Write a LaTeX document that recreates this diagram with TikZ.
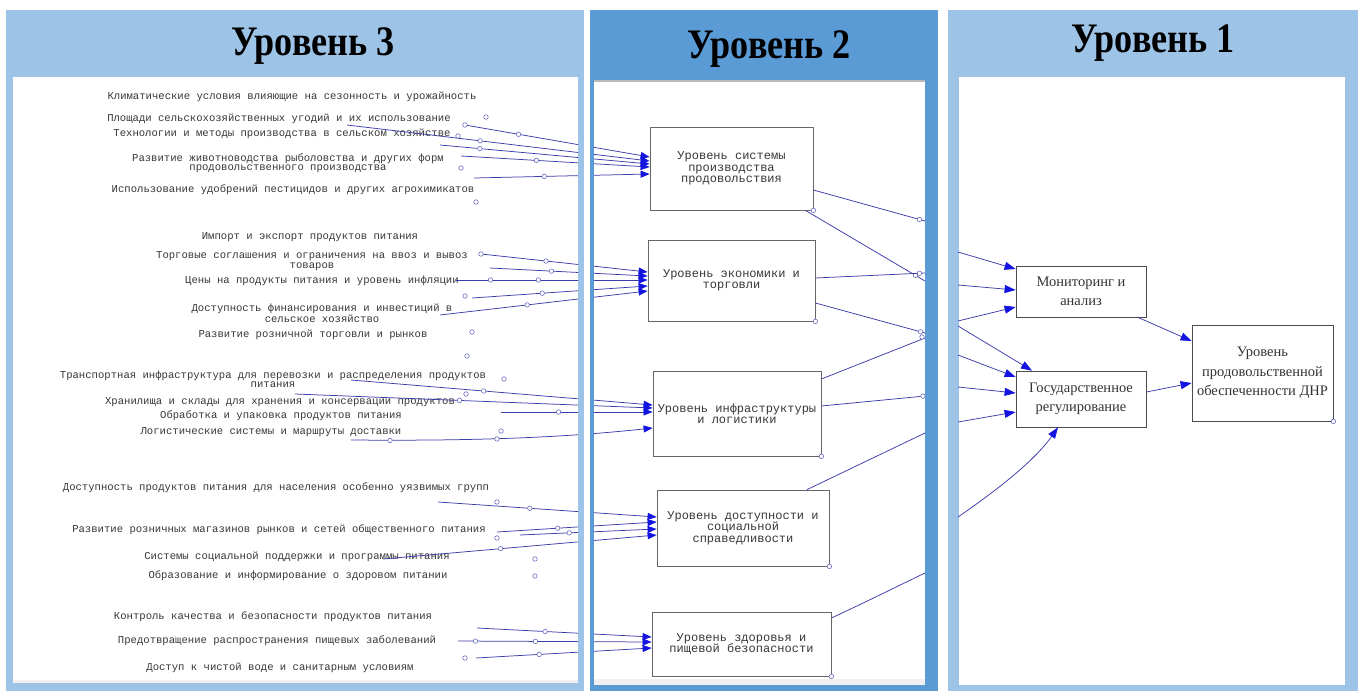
\documentclass[tikz,border=0pt]{standalone}
\usepackage{fontspec}
\usepackage{graphicx}
\setmainfont{Liberation Serif}
\newfontfamily\monof{Liberation Mono}
\usetikzlibrary{arrows.meta}
\definecolor{pl}{RGB}{157,195,230}
\definecolor{pm}{RGB}{91,155,213}
\definecolor{ln}{RGB}{60,60,170}
\definecolor{hd}{RGB}{20,20,225}
\definecolor{txt}{RGB}{55,55,55}
\begin{document}
\begin{tikzpicture}[x=1pt,y=-1pt,
  lbl/.style={font=\monof\fontsize{10.6}{9.5}\selectfont, text=txt, align=center, inner sep=0pt},
  mbox/.style={draw=black!60, line width=0.8pt, fill=white, font=\monof\fontsize{12}{11.5}\selectfont, text=txt, align=center, inner sep=0pt},
  rbox/.style={draw=black!70, line width=0.8pt, fill=white, font=\fontsize{14.5}{19.5}\selectfont, text=black!80, align=center, inner sep=0pt},
  ttl/.style={font=\fontsize{42}{46}\selectfont\bfseries, inner sep=0pt},
  conn/.style={draw=ln, line width=0.75pt},
  arr/.style={conn, -{Triangle[length=9pt,width=7pt,color=hd]}},
  rarr/.style={conn, -{Triangle[length=11pt,width=8pt,color=hd]}},
  circ/.style={circle, draw=ln!75, fill=white, line width=0.6pt, minimum size=4.5pt, inner sep=0pt}]
\useasboundingbox (0,0) rectangle (1358,691);
% panels
\fill[white] (0,0) rectangle (1358,691);
\fill[pl] (6,10) rectangle (584,691);
\fill[white] (13,77) rectangle (578,680);
\fill[gray!12] (13,680) rectangle (578,683);
\fill[pm] (590,10) rectangle (938,691);
\fill[gray!55] (594,80) rectangle (925,82);
\fill[white] (594,82) rectangle (925,679);
\fill[gray!12] (594,679) rectangle (925,685);
\fill[pl] (948,10) rectangle (1358,691);
\fill[white] (959,77) rectangle (1345,685);
% titles
\node[ttl] (ttl3) at (313,46) {\scalebox{0.86}[1]{Уровень 3}};
\node[ttl] (ttl2) at (769,49) {\scalebox{0.86}[1]{Уровень 2}};
\node[ttl] (ttl1) at (1153,43) {\scalebox{0.86}[1]{Уровень 1}};
% left labels
\node[lbl] (t1) at (292,97) {Климатические условия влияющие на сезонность и урожайность};
\node[lbl] (t2) at (279,119) {Площади сельскохозяйственных угодий и их использование};
\node[lbl] (t3) at (282,134) {Технологии и методы производства в сельском хозяйстве};
\node[lbl] (t4) at (288,163) {Развитие животноводства рыболовства и других форм\\продовольственного производства};
\node[lbl] (t5) at (293,190) {Использование удобрений пестицидов и других агрохимикатов};
\node[lbl] (t6) at (310,237) {Импорт и экспорт продуктов питания};
\node[lbl] (t7) at (312,261) {Торговые соглашения и ограничения на ввоз и вывоз\\товаров};
\node[lbl] (t8) at (322,281) {Цены на продукты питания и уровень инфляции};
\node[lbl] (t9) at (322,313) {Доступность финансирования и инвестиций в\\сельское хозяйство};
\node[lbl] (t10) at (313,335) {Развитие розничной торговли и рынков};
\node[lbl] (t11) at (273,379) {Транспортная инфраструктура для перевозки и распределения продуктов\\питания};
\node[lbl] (t12) at (280,402) {Хранилища и склады для хранения и консервации продуктов};
\node[lbl] (t13) at (281,416) {Обработка и упаковка продуктов питания};
\node[lbl] (t14) at (271,432) {Логистические системы и маршруты доставки};
\node[lbl] (t15) at (276,488) {Доступность продуктов питания для населения особенно уязвимых групп};
\node[lbl] (t16) at (279,530) {Развитие розничных магазинов рынков и сетей общественного питания};
\node[lbl] (t17) at (297,557) {Системы социальной поддержки и программы питания};
\node[lbl] (t18) at (298,576) {Образование и информирование о здоровом питании};
\node[lbl] (t19) at (273,617) {Контроль качества и безопасности продуктов питания};
\node[lbl] (t20) at (277,641) {Предотвращение распространения пищевых заболеваний};
\node[lbl] (t21) at (280,668) {Доступ к чистой воде и санитарным условиям};
% middle boxes
\node[mbox, minimum width=163pt, minimum height=83pt] (b1) at (731.5,168.5) {Уровень системы\\производства\\продовольствия};
\node[mbox, minimum width=167pt, minimum height=81pt] (b2) at (731.5,280.5) {Уровень экономики и\\торговли};
\node[mbox, minimum width=168pt, minimum height=85pt] (b3) at (737,413.5) {Уровень инфраструктуры\\и логистики};
\node[mbox, minimum width=172pt, minimum height=76pt] (b4) at (743,528) {Уровень доступности и\\социальной\\справедливости};
\node[mbox, minimum width=179pt, minimum height=64pt] (b5) at (741.5,644) {Уровень здоровья и\\пищевой безопасности};
% right boxes
\node[rbox, minimum width=130pt, minimum height=51pt] (mon) at (1081,291.5) {Мониторинг и\\анализ};
\node[rbox, minimum width=130pt, minimum height=56pt] (gov) at (1081,399) {Государственное\\регулирование};
\node[rbox, minimum width=141pt, minimum height=96pt] (top) at (1262.5,373) {Уровень\\продовольственной\\обеспеченности ДНР};
% free ends
\coordinate (s1a) at (465,125); \coordinate (s1b) at (347,125); \coordinate (s1c) at (440,145);
\coordinate (s1d) at (461,156); \coordinate (s1e) at (474,178);
\coordinate (s2a) at (481,254); \coordinate (s2b) at (490,268); \coordinate (s2c) at (456,280);
\coordinate (s2d) at (472,298); \coordinate (s2e) at (440,315);
\coordinate (s3a) at (351,380); \coordinate (s3b) at (295,394); \coordinate (s3c) at (501,412);
\coordinate (s3d) at (351,440);
\coordinate (s4a) at (438,502); \coordinate (s4b) at (497,532); \coordinate (s4c) at (520,535);
\coordinate (s4d) at (383,559);
\coordinate (s5a) at (477,628); \coordinate (s5b) at (458,641); \coordinate (s5c) at (476,658);
\coordinate (o1) at (925,221); \coordinate (o2) at (925,281); \coordinate (o3) at (925,273);
\coordinate (o4) at (925,333); \coordinate (o5) at (925,338); \coordinate (o6) at (925,396);
\coordinate (o7) at (925,433); \coordinate (o8) at (925,573);
\coordinate (i1) at (958,252); \coordinate (i2) at (958,285); \coordinate (i3) at (958,321);
\coordinate (i4) at (958,326); \coordinate (i5) at (958,355); \coordinate (i6) at (958,387);
\coordinate (i7) at (958,422); \coordinate (i8) at (958,517);
\begin{scope}
\clip (13,77) rectangle (578,680) (594,82) rectangle (925,679);
% group 1
\draw[arr] (s1a) -- node[circ,pos=0] (c1a0) {} node[circ,pos=0.29] (c1a) {} ([yshift=11.5pt]b1.west);
\draw[arr] (s1b) -- node[circ,pos=0.44] (c1b) {} ([yshift=7.5pt]b1.west);
\draw[arr] (s1c) -- node[circ,pos=0.19] (c1c) {} ([yshift=4.5pt]b1.west);
\draw[arr] (s1d) -- node[circ,pos=0.40] (c1d) {} ([yshift=1.5pt]b1.west);
\draw[arr] (s1e) -- node[circ,pos=0.40] (c1e) {} ([yshift=-5.5pt]b1.west);
% group 2
\draw[arr] (s2a) -- node[circ,pos=0] (c2a0) {} node[circ,pos=0.39] (c2a) {} ([yshift=8.5pt]b2.west);
\draw[arr] (s2b) -- node[circ,pos=0.39] (c2b) {} ([yshift=4.5pt]b2.west);
\draw[arr] (s2c) -- node[circ,pos=0.18] (c2c0) {} node[circ,pos=0.43] (c2c) {} ([yshift=0.5pt]b2.west);
\draw[arr] (s2d) -- node[circ,pos=0.40] (c2d) {} ([yshift=-5.5pt]b2.west);
\draw[arr] (s2e) -- node[circ,pos=0.42] (c2e) {} ([yshift=-10.5pt]b2.west);
% group 3
\draw[arr] (s3a) -- node[circ,pos=0.44] (c3a) {} ([yshift=8.5pt]b3.west);
\draw[arr] (s3b) -- node[circ,pos=0.46] (c3b) {} ([yshift=5.5pt]b3.west);
\draw[arr] (s3c) -- node[circ,pos=0.38] (c3c) {} ([yshift=1.5pt]b3.west);
\draw[arr] (s3d) .. controls (470,441) and (560,438) .. ([yshift=-14.5pt]b3.west);
% group 4
\draw[arr] (s4a) -- node[circ,pos=0.42] (c4a) {} ([yshift=11pt]b4.west);
\draw[arr] (s4b) -- node[circ,pos=0.38] (c4b) {} ([yshift=6pt]b4.west);
\draw[arr] (s4c) -- node[circ,pos=0.36] (c4c) {} ([yshift=-1pt]b4.west);
\draw[arr] (s4d) -- node[circ,pos=0.43] (c4d) {} ([yshift=-7pt]b4.west);
% group 5
\draw[arr] (s5a) -- node[circ,pos=0.39] (c5a) {} ([yshift=7pt]b5.west);
\draw[arr] (s5b) -- node[circ,pos=0.09] (c5b0) {} node[circ,pos=0.40] (c5b) {} ([yshift=2pt]b5.west);
\draw[arr] (s5c) -- node[circ,pos=0.36] (c5c) {} ([yshift=-4pt]b5.west);
% middle outgoing
\draw[conn] ([yshift=-21.5pt]b1.east) -- node[circ,pos=0.95] (cm1) {} (o1);
\draw[conn] ([xshift=-8pt]b1.south east) -- node[circ,pos=0.92] (cm2) {} (o2);
\draw[conn] ([yshift=2.5pt]b2.east) -- node[circ,pos=0.95] (cm3) {} (o3);
\draw[conn] ([yshift=-22.5pt]b2.east) -- node[circ,pos=0.96] (cm4) {} (o4);
\draw[conn] ([yshift=34.5pt]b3.east) -- (o5);
\draw[conn] ([yshift=7.5pt]b3.east) -- node[circ,pos=0.98] (cm6) {} (o6);
\draw[conn] ([xshift=64pt]b4.north) -- (o7);
\draw[conn] ([yshift=26pt]b5.east) .. controls (870,600) and (900,585) .. (o8);
\end{scope}
% isolated small circles, left panel
\node[circ] (k1) at (486,117) {};
\node[circ] (k2) at (458,136) {};
\node[circ] (k3) at (461,168) {};
\node[circ] (k4) at (476,202) {};
\node[circ] (k5) at (465,296) {};
\node[circ] (k6) at (472,332) {};
\node[circ] (k7) at (467,356) {};
\node[circ] (k8) at (504,379) {};
\node[circ] (k9) at (466,394) {};
\node[circ] (k10) at (501,431) {};
\node[circ] (k11) at (390,440.5) {};
\node[circ] (k12) at (497,439) {};
\node[circ] (k13) at (497,502) {};
\node[circ] (k14) at (497,538) {};
\node[circ] (k15) at (535,559) {};
\node[circ] (k16) at (535,576) {};
\node[circ] (k17) at (465,658) {};
\node[circ] (k18) at (922,337) {};
% box corner circles
\node[circ] (q1) at (b1.south east) {};
\node[circ] (q2) at (b2.south east) {};
\node[circ] (q3) at (b3.south east) {};
\node[circ] (q4) at (b4.south east) {};
\node[circ] (q5) at (b5.south east) {};
\node[circ] (q6) at (top.south east) {};
% right panel arrows
\draw[rarr] (i1) -- ([yshift=22.5pt]mon.west);
\draw[rarr] (i2) -- ([yshift=1.5pt]mon.west);
\draw[rarr] (i3) -- ([yshift=-15.5pt]mon.west);
\draw[rarr] (i4) -- ([xshift=-49pt]gov.north);
\draw[rarr] (i5) -- ([yshift=22pt]gov.west);
\draw[rarr] (i6) -- ([yshift=6pt]gov.west);
\draw[rarr] (i7) -- ([yshift=-13pt]gov.west);
\draw[rarr] (i8) .. controls (1000,488) and (1035,460) .. ([xshift=-23pt]gov.south);
\draw[rarr] ([xshift=57pt]mon.south) -- ([yshift=32pt]top.west);
\draw[rarr] ([yshift=7pt]gov.east) -- ([yshift=-10pt]top.west);
\end{tikzpicture}
\end{document}
